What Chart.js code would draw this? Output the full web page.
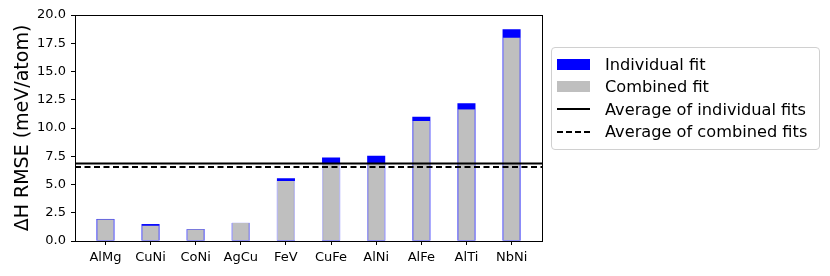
<!DOCTYPE html>
<html>
<head>
<meta charset="utf-8">
<script src="https://cdn.jsdelivr.net/npm/chart.js@4.4.1/dist/chart.umd.min.js"></script>
<style>
  body { margin: 0; background: #fff; font-family: "DejaVu Sans", sans-serif; }
  #wrap { position: relative; width: 830px; height: 276px; }
  #legend {
    position: absolute; left: 551px; top: 47px; width: 269px; height: 103px;
    border: 1px solid #d0d0d0; border-radius: 4px; box-sizing: border-box;
    padding-top: 5px; font-size: 16.2px; color: #000;
  }
  .row { height: 22.5px; display: flex; align-items: center; }
  .sw { width: 33px; height: 11px; margin-left: 5px; margin-right: 15px; flex: none; }
  .ln { width: 33px; margin-left: 5px; margin-right: 15px; flex: none; border-top: 2px solid #000; }
  .dash { border-top: 2px dashed #000; }
</style>
</head>
<body>
<div id="wrap">
  <canvas id="c" width="830" height="276"></canvas>
  <div id="legend">
    <div class="row"><div class="sw" style="background:#0000ff"></div>Individual fit</div>
    <div class="row"><div class="sw" style="background:#bfbfbf"></div>Combined fit</div>
    <div class="row"><div class="ln"></div>Average of individual fits</div>
    <div class="row"><div class="ln dash"></div>Average of combined fits</div>
  </div>
</div>
<script>
const categories = ["AlMg", "CuNi", "CoNi", "AgCu", "FeV", "CuFe", "AlNi", "AlFe", "AlTi", "NbNi"];
const individualFit = [1.95, 1.5, 1.05, 1.6, 5.56, 7.4, 7.54, 11.0, 12.18, 18.74];
const combinedFit = [1.92, 1.38, 1.05, 1.6, 5.3, 6.85, 6.85, 10.62, 11.65, 18.0];
const avgIndividual = 6.85;
const avgCombined = 6.55;
const yTicks = [0, 2.5, 5, 7.5, 10, 12.5, 15, 17.5, 20];

const xMin = -0.674;
const xMax = categories.length - 1 + 0.674;

Chart.defaults.font.family = "'DejaVu Sans', sans-serif";
Chart.defaults.color = "#000";

const frame = {
  id: "frame",
  afterDraw(chart) {
    const a = chart.chartArea;
    const ctx = chart.ctx;
    ctx.save();
    ctx.strokeStyle = "#000";
    ctx.lineWidth = 1;
    ctx.strokeRect(a.left + 0.5, a.top + 0.5, a.right - a.left, a.bottom - a.top);
    ctx.restore();
  },
};

new Chart(document.getElementById("c"), {
  type: "bar",
  data: {
    datasets: [
      {
        label: "Combined fit",
        data: combinedFit.map((v, i) => ({ x: i, y: v })),
        backgroundColor: "#bfbfbf",
        borderColor: "rgba(205,205,240,1)",
        borderWidth: { left: 1, right: 1, top: 0, bottom: 0 },
        grouped: false,
        categoryPercentage: 1,
        barPercentage: 0.4,
        order: 1,
      },
      {
        label: "Individual fit",
        data: individualFit.map((v, i) => ({ x: i, y: v })),
        backgroundColor: "#0000ff",
        borderWidth: 0,
        grouped: false,
        categoryPercentage: 1,
        barPercentage: 0.4,
        order: 2,
      },
      {
        type: "line",
        label: "Average of individual fits",
        data: [{ x: xMin, y: avgIndividual }, { x: xMax, y: avgIndividual }],
        borderColor: "#000",
        borderWidth: 2,
        pointRadius: 0,
        order: 0,
      },
      {
        type: "line",
        label: "Average of combined fits",
        data: [{ x: xMin, y: avgCombined }, { x: xMax, y: avgCombined }],
        borderColor: "#000",
        borderWidth: 2,
        borderDash: [6, 3.5],
        pointRadius: 0,
        order: 0,
      },
    ],
  },
  options: {
    responsive: false,
    animation: false,
    layout: { padding: { top: 15, right: 288, bottom: 0, left: 0 } },
    plugins: {
      legend: { display: false },
      tooltip: { enabled: false },
    },
    scales: {
      x: {
        type: "linear",
        offset: false,
        min: xMin,
        max: xMax,
        afterBuildTicks: (s) => {
          s.ticks = categories.map((c, i) => ({ value: i }));
        },
        afterFit: (s) => {
          s.height = 35;
        },
        ticks: {
          callback: (v) => categories[v],
          font: { size: 13 },
          padding: 5,
          maxRotation: 0,
          autoSkip: false,
        },
        grid: { offset: false, drawOnChartArea: false, drawTicks: true, tickLength: 4, color: "#000" },
        border: { display: true, color: "#000" },
      },
      y: {
        min: 0,
        max: 20,
        afterBuildTicks: (s) => {
          s.ticks = yTicks.map((v) => ({ value: v }));
        },
        afterFit: (s) => {
          s.width = 75;
        },
        ticks: {
          callback: (v) => v.toFixed(1),
          font: { size: 13 },
          padding: 5,
        },
        grid: { drawOnChartArea: false, drawTicks: true, tickLength: 4, color: "#000" },
        border: { display: true, color: "#000" },
        title: {
          display: true,
          text: "ΔH RMSE (meV/atom)",
          font: { size: 19 },
          padding: { top: 12, bottom: 0 },
        },
      },
    },
  },
  plugins: [frame],
});
</script>
</body>
</html>
